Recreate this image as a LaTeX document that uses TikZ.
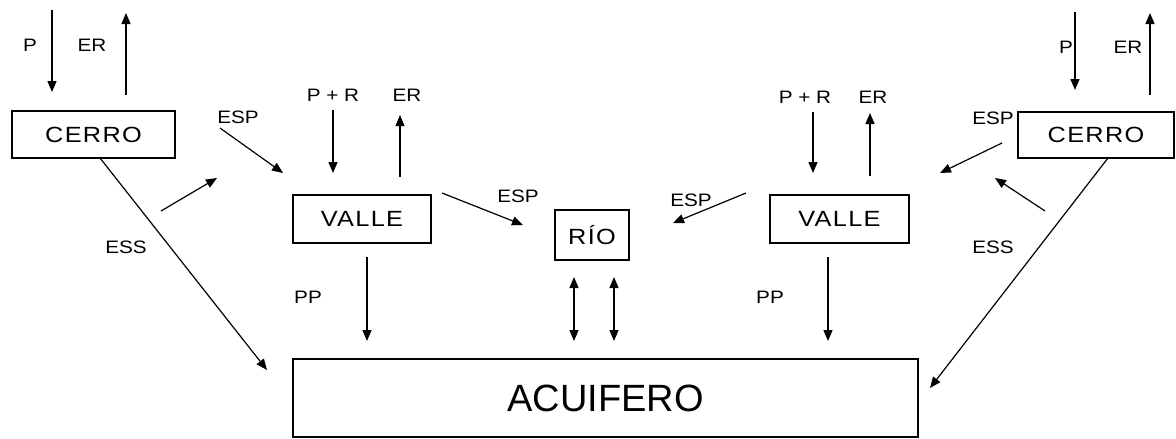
\documentclass[tikz,border=0pt]{standalone}
\usepackage{fontspec}
\setmainfont{Liberation Sans}
\newfontfamily\labfont[FakeStretch=1.15]{Liberation Sans}
\newfontfamily\boxfont[FakeStretch=1.15,LetterSpace=6]{Liberation Sans}
\usetikzlibrary{arrows.meta}
\begin{document}
\begin{tikzpicture}[x=1pt,y=-1pt,
  box/.style={draw,line width=1.6pt,inner sep=0pt,font=\boxfont\fontsize{22}{24}\selectfont},
  lab/.style={inner sep=0pt,font=\labfont\fontsize{18}{20}\selectfont},
  arr/.style={line width=1.4pt,-{Triangle[length=11pt,width=9pt]}},
  darr/.style={line width=1.4pt,{Triangle[length=11pt,width=9pt]}-{Triangle[length=11pt,width=9pt]}},
  thin/.style={line width=1.2pt,-{Triangle[length=11pt,width=9pt]}}]
\useasboundingbox[fill=white] (0,0) rectangle (1176,439);
% boxes
\node[box,minimum width=163pt,minimum height=47pt] (cerroL) at (93.5,134.5) {CERRO};
\node[box,minimum width=138pt,minimum height=48pt] (valleL) at (362,219) {VALLE};
\node[box,minimum width=74pt,minimum height=50pt] (rio) at (592,235) {RÍO};
\node[box,minimum width=139pt,minimum height=48pt] (valleR) at (839.5,219) {VALLE};
\node[box,minimum width=156pt,minimum height=46pt] (cerroR) at (1096,135) {CERRO};
\node[box,minimum width=625pt,minimum height=78pt,font=\fontsize{38}{44}\selectfont] (acuifero) at (605.5,398) {ACUIFERO};
% free ends
\coordinate (pL1) at (52,10);   \coordinate (pL2) at (52,92);
\coordinate (erL1) at (126,95); \coordinate (erL2) at (126,13);
\coordinate (espL1) at (220,128); \coordinate (espL2) at (283,173);
\coordinate (sL1) at (161,211); \coordinate (sL2) at (217,178);
\coordinate (essL1) at (100,158); \coordinate (essL2) at (267,370);
\coordinate (prL1) at (333,110); \coordinate (prL2) at (333,173);
\coordinate (evL1) at (400,177); \coordinate (evL2) at (400,115);
\coordinate (espM1) at (442,193); \coordinate (espM2) at (523,225);
\coordinate (ppL1) at (367,257); \coordinate (ppL2) at (367,341);
\coordinate (d1a) at (574,277); \coordinate (d1b) at (574,341);
\coordinate (d2a) at (614,277); \coordinate (d2b) at (614,341);
\coordinate (pR1) at (1075,12);  \coordinate (pR2) at (1075,90);
\coordinate (erR1) at (1150,95); \coordinate (erR2) at (1150,13);
\coordinate (prR1) at (813,112); \coordinate (prR2) at (813,173);
\coordinate (evR1) at (870,176); \coordinate (evR2) at (870,113);
\coordinate (espR1) at (1002,143); \coordinate (espR2) at (940,173);
\coordinate (sR1) at (1045,211); \coordinate (sR2) at (995,178);
\coordinate (essR1) at (1108,158); \coordinate (essR2) at (930,388);
\coordinate (espV1) at (746,193); \coordinate (espV2) at (673,223);
\coordinate (ppR1) at (828,257); \coordinate (ppR2) at (828,341);
% arrows
\draw[arr] (pL1) -- (pL2);
\draw[arr] (erL1) -- (erL2);
\draw[thin] (espL1) -- (espL2);
\draw[thin] (sL1) -- (sL2);
\draw[thin] (essL1) -- (essL2);
\draw[arr] (prL1) -- (prL2);
\draw[arr] (evL1) -- (evL2);
\draw[thin] (espM1) -- (espM2);
\draw[arr] (ppL1) -- (ppL2);
\draw[darr] (d1a) -- (d1b);
\draw[darr] (d2a) -- (d2b);
\draw[arr] (pR1) -- (pR2);
\draw[arr] (erR1) -- (erR2);
\draw[arr] (prR1) -- (prR2);
\draw[arr] (evR1) -- (evR2);
\draw[thin] (espR1) -- (espR2);
\draw[thin] (sR1) -- (sR2);
\draw[thin] (essR1) -- (essR2);
\draw[thin] (espV1) -- (espV2);
\draw[arr] (ppR1) -- (ppR2);
% labels
\node[lab] (lP1) at (30,45) {P};
\node[lab] (lER1) at (92,45) {ER};
\node[lab] (lESP1) at (238,117) {ESP};
\node[lab] (lESS1) at (126,247) {ESS};
\node[lab] (lPR1) at (333,95) {P + R};
\node[lab] (lER2) at (407,95) {ER};
\node[lab] (lESP2) at (518,196) {ESP};
\node[lab] (lPP1) at (308,297) {PP};
\node[lab] (lP2) at (1066,47) {P};
\node[lab] (lER3) at (1128,47) {ER};
\node[lab] (lPR2) at (805,97) {P + R};
\node[lab] (lER4) at (873,97) {ER};
\node[lab] (lESP3) at (993,118) {ESP};
\node[lab] (lESS2) at (993,247) {ESS};
\node[lab] (lESP4) at (691,200) {ESP};
\node[lab] (lPP2) at (770,297) {PP};
\end{tikzpicture}
\end{document}
